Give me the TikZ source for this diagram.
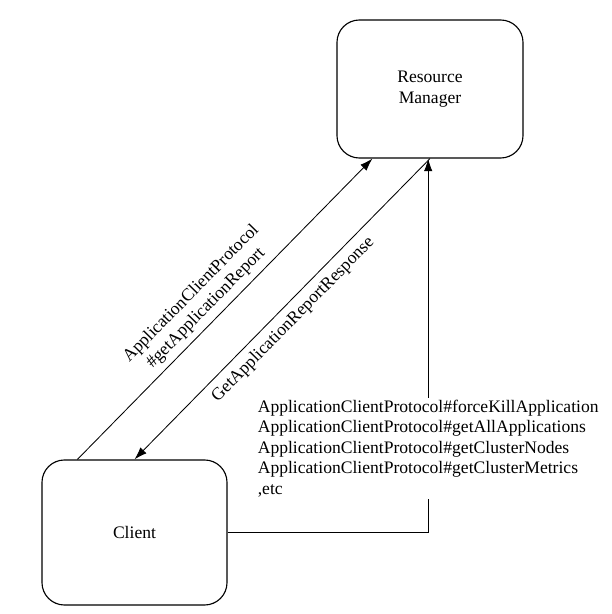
\documentclass[tikz,border=0pt]{standalone}
\usepackage{fontspec}
\setmainfont{Liberation Serif}
\usetikzlibrary{arrows.meta}

\begin{document}
\begin{tikzpicture}[x=0.025cm,y=0.025cm,every path/.style={line width=0.6pt},
        every node/.style={font=\fontsize{12.5}{14.6}\selectfont},
        box/.style={draw,rounded corners=16pt,align=center,line width=0.8pt}]
          \useasboundingbox (0,0) rectangle (612,614);
          \node[box,minimum width=4.65cm,minimum height=3.45cm] (rm) at (430,525) {Resource\\Manager};
          \node[box,minimum width=4.625cm,minimum height=3.625cm] (client) at (134.5,81.5) {Client};
          \node[align=left,anchor=north west,inner sep=1pt] (calls) at (256,216) {ApplicationClientProtocol\#forceKillApplication\\ApplicationClientProtocol\#getAllApplications\\ApplicationClientProtocol\#getClusterNodes\\ApplicationClientProtocol\#getClusterMetrics\\,etc};

          \draw[-{Latex[length=9pt,width=6pt]}] ([xshift=36*0.025cm]client.north west) -- node[sloped,above,align=center,inner sep=4pt,pos=0.47] {ApplicationClientProtocol\\\#getApplicationReport} ([xshift=36*0.025cm]rm.south west);
          \draw[-{Latex[length=9pt,width=6pt]}] (rm.south) -- node[sloped,below,inner sep=5pt] {GetApplicationReportResponse} (client.north);
          \draw[-{Latex[length=9pt,width=6pt]}] (calls.north) -- (calls.north |- rm.south);
          \draw (client.east) -| (calls.south);
        \end{tikzpicture}
\end{document}
